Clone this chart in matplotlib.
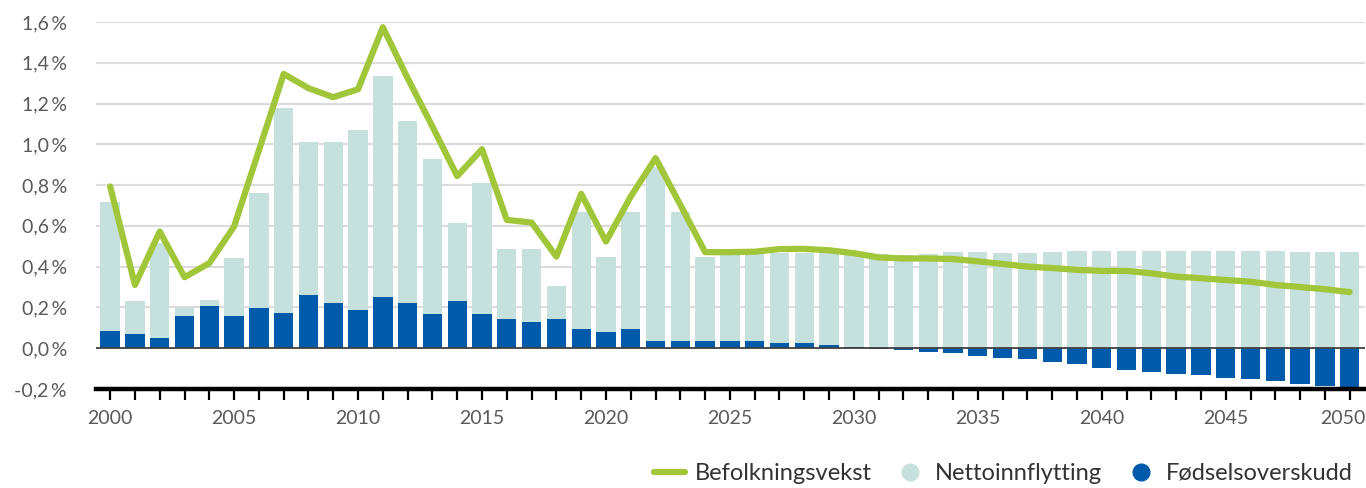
import numpy as np
import matplotlib.pyplot as plt
from matplotlib.lines import Line2D
from matplotlib.ticker import FixedLocator, MultipleLocator
from matplotlib.transforms import ScaledTranslation

plt.rcParams['font.family'] = ['Lato', 'DejaVu Sans']

# Data (percent)
years = np.arange(2000, 2051)

births = [0.085, 0.069, 0.052, 0.158, 0.207, 0.158, 0.196, 0.172, 0.261, 0.221,
          0.188, 0.253, 0.221, 0.167, 0.229, 0.167, 0.142, 0.126, 0.142, 0.095,
          0.078, 0.095, 0.036, 0.036, 0.036, 0.035, 0.035, 0.025, 0.025, 0.016,
          0.008, -0.004, -0.010, -0.018, -0.026, -0.036, -0.046, -0.054, -0.070, -0.080,
          -0.097, -0.107, -0.116, -0.128, -0.134, -0.144, -0.152, -0.161, -0.174, -0.184,
          -0.194]

migration = [0.631, 0.164, 0.463, 0.043, 0.030, 0.283, 0.567, 1.008, 0.752, 0.792,
             0.883, 1.082, 0.895, 0.760, 0.384, 0.645, 0.345, 0.361, 0.165, 0.575,
             0.371, 0.575, 0.854, 0.634, 0.413, 0.422, 0.425, 0.440, 0.441, 0.450,
             0.457, 0.460, 0.457, 0.462, 0.472, 0.472, 0.466, 0.466, 0.472, 0.479,
             0.479, 0.479, 0.479, 0.479, 0.479, 0.479, 0.479, 0.479, 0.472, 0.472,
             0.472]

growth = [0.793, 0.310, 0.572, 0.348, 0.417, 0.597, 0.970, 1.345, 1.275, 1.231,
          1.270, 1.574, 1.324, 1.087, 0.844, 0.976, 0.629, 0.616, 0.449, 0.757,
          0.523, 0.744, 0.932, 0.703, 0.471, 0.471, 0.473, 0.486, 0.487, 0.480,
          0.466, 0.445, 0.440, 0.440, 0.437, 0.426, 0.413, 0.400, 0.393, 0.384,
          0.379, 0.379, 0.367, 0.351, 0.343, 0.334, 0.326, 0.310, 0.300, 0.289,
          0.275]

green = '#A2C63A'
dark_blue = '#005AAA'
light = '#C5E0DD'
grey_txt = '#595959'

births = np.array(births)
migration = np.array(migration)

fig = plt.figure(figsize=(13.66, 4.88), dpi=100)
ax = fig.add_axes([0.0703, 0.203, 0.929, 0.752])

# gridlines
for v in [0.2, 0.4, 0.6, 0.8, 1.0, 1.2, 1.4, 1.6]:
    ax.axhline(v, color='#DCDCDC', lw=1.6, zorder=0)

ax.bar(years, births, width=0.78, color=dark_blue, zorder=2)
ax.bar(years, migration, width=0.78, bottom=np.maximum(births, 0), color=light, zorder=2)
ax.axhline(0, color='#404040', lw=1.3, zorder=3)
ax.plot(years, growth, color=green, lw=4.5, zorder=4, solid_capstyle='round')

ax.set_xlim(1999.43, 2050.62)
ax.set_ylim(-0.2, 1.6)

for s in ['top', 'right', 'left']:
    ax.spines[s].set_visible(False)
ax.spines['bottom'].set_linewidth(3.2)
ax.spines['bottom'].set_color('black')

yt = np.arange(-0.2, 1.61, 0.2)
ax.yaxis.set_major_locator(FixedLocator(yt))
ax.set_yticklabels([('%.1f' % v).replace('.', ',') + '\u2009%' for v in yt])
ax.tick_params(axis='y', length=0, pad=21, labelsize=14, labelcolor=grey_txt)

ax.xaxis.set_major_locator(FixedLocator(list(range(2000, 2051, 5))))
ax.xaxis.set_minor_locator(MultipleLocator(1))
ax.tick_params(axis='x', which='both', length=8, width=1.6, color='black',
               pad=7, labelsize=14, labelcolor=grey_txt)

# keep the last year label inside the figure
fig.canvas.draw()
last = ax.xaxis.get_major_ticks()[-1].label1
last.set_transform(last.get_transform() + ScaledTranslation(-7 / 100, 0, fig.dpi_scale_trans))

handles = [
    Line2D([], [], color=green, lw=4.5, solid_capstyle='round'),
    Line2D([], [], marker='o', ls='', markersize=12, color=light),
    Line2D([], [], marker='o', ls='', markersize=12, color=dark_blue),
]
fig.legend(handles, ['Befolkningsvekst', 'Nettoinnflytting', 'Fødselsoverskudd'],
           loc='lower right', bbox_to_anchor=(1.006, -0.035), ncol=3, frameon=False,
           fontsize=17, handlelength=1.3, handletextpad=0.4, columnspacing=1.0,
           labelcolor='#333333')

fig.savefig('out.png', dpi=100)
